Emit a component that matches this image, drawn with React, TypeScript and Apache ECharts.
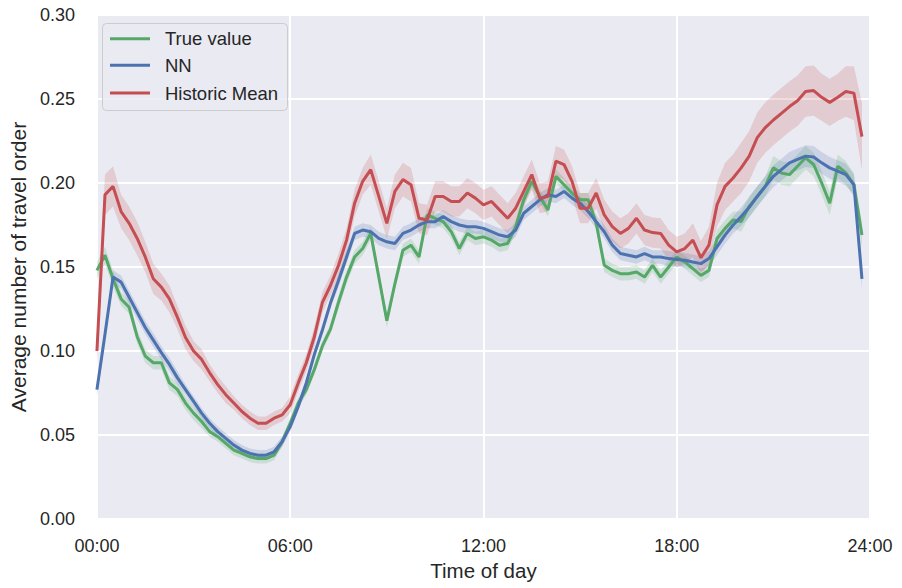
import React, { useEffect, useRef } from "react";
import * as echarts from "echarts";

const STEP_MINUTES = 15;

const trueValue = [
  0.148, 0.157, 0.143, 0.131, 0.126, 0.1085, 0.097, 0.093, 0.093, 0.081,
  0.077, 0.069, 0.063, 0.058, 0.052, 0.049, 0.045, 0.041, 0.039, 0.037,
  0.036, 0.036, 0.038, 0.046, 0.057, 0.069, 0.077, 0.089, 0.103, 0.113,
  0.129, 0.144, 0.156, 0.161, 0.170, 0.144, 0.118, 0.140, 0.160, 0.163,
  0.156, 0.181, 0.179, 0.177, 0.171, 0.161, 0.170, 0.167, 0.168, 0.166,
  0.163, 0.164, 0.174, 0.190, 0.201, 0.192, 0.184, 0.204, 0.199, 0.194,
  0.190, 0.190, 0.176, 0.151, 0.148, 0.146, 0.146, 0.147, 0.144, 0.151,
  0.144, 0.150, 0.156, 0.153, 0.149, 0.145, 0.148, 0.167, 0.173, 0.178,
  0.177, 0.186, 0.192, 0.198, 0.209, 0.206, 0.205, 0.210, 0.215, 0.211,
  0.200, 0.188, 0.210, 0.206, 0.199, 0.169,
];

const nnValue = [
  0.077, 0.110, 0.144, 0.141, 0.132, 0.123, 0.114, 0.1065, 0.099, 0.092,
  0.084, 0.077, 0.070, 0.063, 0.057, 0.052, 0.048, 0.044, 0.041, 0.039,
  0.038, 0.038, 0.040, 0.046, 0.055, 0.067, 0.081, 0.098, 0.1125, 0.1285,
  0.142, 0.156, 0.170, 0.172, 0.171, 0.167, 0.165, 0.164, 0.170, 0.172,
  0.175, 0.177, 0.177, 0.180, 0.177, 0.175, 0.174, 0.174, 0.173, 0.171,
  0.169, 0.168, 0.172, 0.182, 0.186, 0.190, 0.193, 0.192, 0.195, 0.191,
  0.188, 0.183, 0.177, 0.171, 0.163, 0.158, 0.157, 0.156, 0.158, 0.156,
  0.156, 0.155, 0.1545, 0.154, 0.153, 0.152, 0.155, 0.162, 0.169, 0.175,
  0.180, 0.1855, 0.192, 0.198, 0.204, 0.208, 0.212, 0.214, 0.216, 0.2155,
  0.212, 0.209, 0.207, 0.205, 0.199, 0.143,
];

const historicMean = [
  0.100, 0.193, 0.198, 0.183, 0.176, 0.167, 0.156, 0.143, 0.138, 0.131,
  0.120, 0.108, 0.100, 0.095, 0.087, 0.080, 0.074, 0.069, 0.064, 0.060,
  0.057, 0.057, 0.060, 0.062, 0.068, 0.081, 0.093, 0.1085, 0.129, 0.139,
  0.151, 0.166, 0.188, 0.201, 0.208, 0.192, 0.176, 0.195, 0.202, 0.199,
  0.179, 0.178, 0.192, 0.192, 0.189, 0.189, 0.194, 0.191, 0.187, 0.189,
  0.184, 0.179, 0.185, 0.195, 0.205, 0.191, 0.192, 0.213, 0.211, 0.201,
  0.185, 0.185, 0.194, 0.181, 0.174, 0.170, 0.173, 0.179, 0.172, 0.1705,
  0.170, 0.163, 0.159, 0.161, 0.166, 0.1555, 0.163, 0.187, 0.198, 0.203,
  0.209, 0.216, 0.227, 0.233, 0.2375, 0.2415, 0.2455, 0.249, 0.2545, 0.255,
  0.251, 0.248, 0.251, 0.2545, 0.2535, 0.2276,
];

const trueCI = [
  0.005, 0.005, 0.005, 0.004, 0.004, 0.004, 0.004, 0.004, 0.004, 0.004,
  0.004, 0.004, 0.004, 0.004, 0.003, 0.003, 0.003, 0.003, 0.003, 0.003,
  0.003, 0.003, 0.003, 0.003, 0.003, 0.003, 0.003, 0.003, 0.003, 0.003,
  0.004, 0.004, 0.004, 0.004, 0.004, 0.004, 0.004, 0.004, 0.004, 0.004,
  0.004, 0.004, 0.004, 0.004, 0.004, 0.004, 0.004, 0.004, 0.004, 0.004,
  0.004, 0.004, 0.004, 0.004, 0.004, 0.004, 0.004, 0.004, 0.004, 0.004,
  0.004, 0.004, 0.004, 0.004, 0.004, 0.004, 0.004, 0.004, 0.004, 0.004,
  0.004, 0.004, 0.004, 0.004, 0.004, 0.004, 0.004, 0.005, 0.005, 0.005,
  0.006, 0.006, 0.006, 0.006, 0.007, 0.007, 0.007, 0.007, 0.007, 0.007,
  0.007, 0.007, 0.007, 0.007, 0.007, 0.007,
];

const nnCI = [
  0.004, 0.004, 0.004, 0.004, 0.004, 0.004, 0.004, 0.004, 0.004, 0.004,
  0.004, 0.003, 0.003, 0.003, 0.003, 0.003, 0.003, 0.003, 0.003, 0.003,
  0.003, 0.003, 0.003, 0.003, 0.003, 0.003, 0.003, 0.003, 0.003, 0.003,
  0.004, 0.004, 0.004, 0.004, 0.004, 0.004, 0.004, 0.004, 0.004, 0.004,
  0.004, 0.004, 0.004, 0.004, 0.004, 0.004, 0.004, 0.004, 0.004, 0.004,
  0.004, 0.004, 0.004, 0.004, 0.004, 0.004, 0.004, 0.004, 0.004, 0.004,
  0.004, 0.004, 0.004, 0.004, 0.004, 0.004, 0.004, 0.004, 0.004, 0.004,
  0.004, 0.0045, 0.0045, 0.0045, 0.0045, 0.0045, 0.0045, 0.005, 0.005, 0.005,
  0.0055, 0.006, 0.006, 0.006, 0.0065, 0.0065, 0.0065, 0.0065, 0.0065, 0.0065,
  0.0065, 0.0065, 0.0065, 0.0065, 0.006, 0.006,
];

const historicCI = [
  0.010, 0.012, 0.012, 0.010, 0.010, 0.010, 0.009, 0.009, 0.008, 0.008,
  0.007, 0.007, 0.006, 0.006, 0.005, 0.005, 0.005, 0.004, 0.004, 0.004,
  0.004, 0.004, 0.004, 0.004, 0.005, 0.005, 0.005, 0.006, 0.006, 0.006,
  0.007, 0.007, 0.008, 0.008, 0.009, 0.009, 0.009, 0.010, 0.010, 0.010,
  0.009, 0.009, 0.009, 0.009, 0.009, 0.009, 0.009, 0.009, 0.009, 0.009,
  0.009, 0.009, 0.009, 0.009, 0.009, 0.009, 0.009, 0.009, 0.009, 0.009,
  0.009, 0.009, 0.009, 0.009, 0.009, 0.009, 0.009, 0.009, 0.009, 0.009,
  0.009, 0.009, 0.009, 0.009, 0.010, 0.010, 0.011, 0.013, 0.014, 0.014,
  0.015, 0.015, 0.015, 0.015, 0.015, 0.015, 0.015, 0.015, 0.015, 0.015,
  0.014, 0.014, 0.014, 0.015, 0.016, 0.020,
];

const xTickLabels = ["00:00", "06:00", "12:00", "18:00", "24:00"];
const seriesNames = ["True value", "NN", "Historic Mean"];
const seriesColors = ["#55A868", "#4C72B0", "#C44E52"];

const hours = trueValue.map((_, i) => (i * STEP_MINUTES) / 60);

const FONT = "'Liberation Sans', Arial, Helvetica, sans-serif";
const TEXT = "#262626";

function bandSeries(name: string, values: number[], ci: number[], color: string) {
  return {
    type: "custom",
    name: name + " CI",
    silent: true,
    clip: true,
    z: 1,
    data: [[0, 0]],
    encode: { x: 0, y: 1 },
    renderItem: (_params: any, api: any) => {
      const upper = values.map((v, i) => api.coord([hours[i], v + ci[i]]));
      const lower = values.map((v, i) => api.coord([hours[i], v - ci[i]])).reverse();
      return {
        type: "polygon",
        shape: { points: upper.concat(lower) },
        style: { fill: color, opacity: 0.2 },
      };
    },
  };
}

function lineSeries(name: string, values: number[], color: string) {
  return {
    type: "line",
    name,
    z: 2,
    symbol: "none",
    showSymbol: false,
    data: values.map((v, i) => [hours[i], v]),
    lineStyle: { color, width: 3 },
    itemStyle: { color },
  };
}

export default function App() {
  const ref = useRef<HTMLDivElement>(null);
  useEffect(() => {
    if (!ref.current) return;
    const chart = echarts.init(ref.current, undefined, { renderer: "svg" });
    const all = [trueValue, nnValue, historicMean];
    const cis = [trueCI, nnCI, historicCI];
    const series: any[] = [];
    all.forEach((vals, k) => {
      series.push(bandSeries(seriesNames[k], vals, cis[k], seriesColors[k]));
      series.push(lineSeries(seriesNames[k], vals, seriesColors[k]));
    });

    const legendRows = [38.7, 65.3, 93];
    const legendGraphics: any[] = [
      {
        type: "rect",
        shape: { x: 102.5, y: 23.5, width: 185, height: 87, r: 4 },
        style: { fill: "rgba(234,234,242,0.8)", stroke: "#CCCCCC", lineWidth: 1 },
        z: 10,
      },
    ];
    seriesNames.forEach((n, k) => {
      legendGraphics.push({
        type: "line",
        shape: { x1: 110, y1: legendRows[k], x2: 150, y2: legendRows[k] },
        style: { stroke: seriesColors[k], lineWidth: 3 },
        z: 11,
      });
      legendGraphics.push({
        type: "text",
        x: 165,
        y: legendRows[k],
        style: {
          text: n,
          fill: TEXT,
          font: `18.5px ${FONT}`,
          verticalAlign: "middle",
          align: "left",
        },
        z: 11,
      });
    });

    chart.setOption({
      animation: false,
      backgroundColor: "#FFFFFF",
      textStyle: { fontFamily: FONT },
      grid: {
        left: 95,
        right: 32,
        top: 15,
        bottom: 69,
        show: true,
        backgroundColor: "#EAEAF2",
        borderWidth: 0,
        containLabel: false,
      },
      xAxis: {
        type: "value",
        min: 0,
        max: 24,
        interval: 6,
        name: "Time of day",
        nameLocation: "middle",
        nameGap: 41,
        nameTextStyle: { color: TEXT, fontSize: 20.5, fontFamily: FONT },
        axisLine: { show: false },
        axisTick: { show: false },
        axisLabel: {
          color: TEXT,
          fontSize: 18,
          fontFamily: FONT,
          margin: 18,
          formatter: (v: number) => xTickLabels[Math.round(v / 6)] ?? "",
        },
        splitLine: { show: true, lineStyle: { color: "#FFFFFF", width: 2 } },
      },
      yAxis: {
        type: "value",
        min: 0,
        max: 0.3,
        interval: 0.05,
        name: "Average number of travel order",
        nameLocation: "middle",
        nameGap: 66,
        nameTextStyle: { color: TEXT, fontSize: 21, fontFamily: FONT },
        axisLine: { show: false },
        axisTick: { show: false },
        axisLabel: {
          color: TEXT,
          fontSize: 18,
          fontFamily: FONT,
          margin: 22,
          formatter: (v: number) => v.toFixed(2),
        },
        splitLine: { show: true, lineStyle: { color: "#FFFFFF", width: 2 } },
      },
      series,
      graphic: legendGraphics,
    });
    return () => chart.dispose();
  }, []);

  return (
    <div
      ref={ref}
      style={{ position: "absolute", left: 0, top: 0, width: 902, height: 588 }}
    />
  );
}
